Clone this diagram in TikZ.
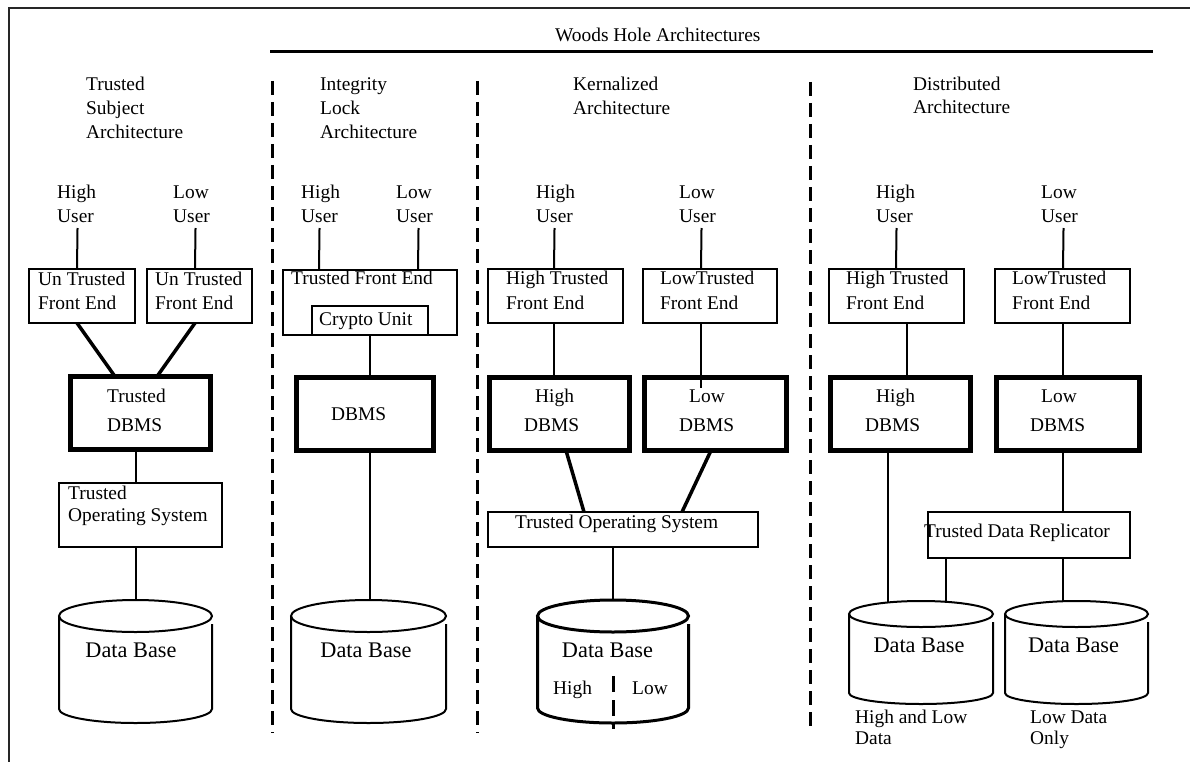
\documentclass[tikz,border=0pt]{standalone}
\usepackage{fontspec}
\setmainfont{Liberation Serif}
\usetikzlibrary{calc}
\newcommand\mycyl[7]{%
  \draw[#7] ({(#1+#2)/2},#3) ellipse [x radius={(#2-#1)/2}, y radius=#4];
  \draw[#7] (#2,#3+8) -- (#2,#5) arc[start angle=0, end angle=180, x radius={(#2-#1)/2}, y radius=#6] -- (#1,#3);
}
\tikzset{
  txt/.style={inner sep=0pt, anchor=base west, font=\fontsize{19.4}{24}\selectfont},
  dbtxt/.style={inner sep=0pt, anchor=base, font=\fontsize{22.3}{26}\selectfont},
  box/.style={draw, line width=2pt, inner sep=0pt, outer sep=0pt, anchor=north west},
  thickbox/.style={box, line width=5pt},
  conn/.style={line width=2pt},
  thickconn/.style={line width=3.5pt},
  divider/.style={line width=3pt, dash pattern=on 14pt off 7pt},
  cylline/.style={line width=2pt},
  thickcyl/.style={line width=3pt},
}
\begin{document}
\begin{tikzpicture}[x=1pt,y=-1pt]
\useasboundingbox (0,0) rectangle (1190,762);
% frame
\draw[line width=1.5pt, black!85] (9,762) -- (9,8) -- (1190,8);
% title
\node[txt] (woods) at (555,42) {Woods Hole Architectures};
\draw[line width=3pt] (270,52) -- (1153,52);
% dividers
\draw[divider] (272,81) -- (272,733);
\draw[divider] (477,81) -- (477,733);
\draw[divider] (810,82) -- (810,733);

% column titles
\node[txt] (t1a) at (86,91) {Trusted};
\node[txt] (t1b) at (86,115) {Subject};
\node[txt] (t1c) at (86,139) {Architecture};
\node[txt] (t2a) at (320,91) {Integrity};
\node[txt] (t2b) at (320,115) {Lock};
\node[txt] (t2c) at (320,139) {Architecture};
\node[txt] (t3a) at (573,91) {Kernalized};
\node[txt] (t3b) at (573,115) {Architecture};
\node[txt] (t4a) at (913,91) {Distributed};
\node[txt] (t4b) at (913,114) {Architecture};

% users
\node[txt] (hu1a) at (57,198) {High};   \node[txt] (hu1b) at (57,222) {User};
\node[txt] (lu1a) at (173,198) {Low};   \node[txt] (lu1b) at (173,222) {User};
\node[txt] (hu2a) at (301,198) {High};  \node[txt] (hu2b) at (301,222) {User};
\node[txt] (lu2a) at (396,198) {Low};   \node[txt] (lu2b) at (396,222) {User};
\node[txt] (hu3a) at (536,198) {High};  \node[txt] (hu3b) at (536,222) {User};
\node[txt] (lu3a) at (679,198) {Low};   \node[txt] (lu3b) at (679,222) {User};
\node[txt] (hu4a) at (876,198) {High};  \node[txt] (hu4b) at (876,222) {User};
\node[txt] (lu4a) at (1041,198) {Low};  \node[txt] (lu4b) at (1041,222) {User};

% ---------- column 1 ----------
\node[box, minimum width=106pt, minimum height=54pt] (ut1) at (29,269) {};
\node[box, minimum width=105pt, minimum height=54pt] (ut2) at (147,269) {};
\node[txt] (ut1a) at (38,285) {Un Trusted};
\node[txt] (ut1b) at (38,309) {Front End};
\node[txt] (ut2a) at (155,285) {Un Trusted};
\node[txt] (ut2b) at (155,309) {Front End};
\node[thickbox, minimum width=140pt, minimum height=73pt] (tdb) at (70.5,376.5) {};
\node[txt] (tdba) at (107,402) {Trusted};
\node[txt] (tdbb) at (107,431) {DBMS};
\node[box, minimum width=163pt, minimum height=64pt] (tos1) at (59,483) {};
\node[txt] (tos1a) at (68,499) {Trusted};
\node[txt] (tos1b) at (68,521) {Operating System};
\mycyl{59}{212}{616}{16}{709}{14}{cylline}
\coordinate (c1top) at (136,600);
\node[dbtxt] (db1t) at (131,657) {Data Base};

\draw[conn] ($(hu1b.base)+(2,6)$) -- ($(ut1.north west)+(48,0)$);
\draw[conn] ($(lu1b.base)+(4,6)$) -- ($(ut2.north west)+(48,0)$);
\draw[thickconn] ($(ut1.south west)+(48,0)$) -- ($(tdb.north west)+(44.5,0)$);
\draw[thickconn] ($(ut2.south west)+(48,0)$) -- ($(tdb.north west)+(86.5,0)$);
\draw[conn] ($(tdb.south west)+(65.5,0)$) -- ($(tos1.north west)+(77,0)$);
\draw[conn] ($(tos1.south west)+(77,0)$) -- (c1top);

% ---------- column 2 ----------
\node[box, minimum width=174pt, minimum height=65pt] (tfe) at (283,270) {};
\node[txt] (tfea) at (291,284) {Trusted Front End};
\node[box, minimum width=116pt, minimum height=29pt] (crypto) at (312,306) {};
\node[txt] (cryptoa) at (319,325) {Crypto Unit};
\node[thickbox, minimum width=137pt, minimum height=73pt] (db2) at (296.5,377.5) {};
\node[txt] (db2a) at (331,420) {DBMS};
\mycyl{291}{446}{616}{16}{709}{14}{cylline}
\coordinate (c2top) at (370,600);
\node[dbtxt] (db2t) at (366,657) {Data Base};

\draw[conn] ($(hu2b.base)+(0,6)$) -- ($(tfe.north west)+(36,0)$);
\draw[conn] ($(lu2b.base)+(4,6)$) -- ($(tfe.north west)+(135,0)$);
\draw[conn] ($(crypto.south west)+(58,0)$) -- ($(db2.north west)+(73.5,0)$);
\draw[conn] ($(db2.south west)+(73.5,0)$) -- (c2top);

% ---------- column 3 ----------
\node[box, minimum width=135pt, minimum height=54pt] (htfe) at (488,269) {};
\node[txt] (htfea) at (506,284) {High Trusted};
\node[txt] (htfeb) at (506,309) {Front End};
\node[box, minimum width=134pt, minimum height=54pt] (ltfe) at (643,269) {};
\node[txt] (ltfea) at (660,284) {LowTrusted};
\node[txt] (ltfeb) at (660,309) {Front End};
\node[thickbox, minimum width=140pt, minimum height=73pt] (hdb) at (489.5,377.5) {};
\node[txt] (hdba) at (535,402) {High};
\node[txt] (hdbb) at (524,431) {DBMS};
\node[thickbox, minimum width=142pt, minimum height=73pt] (ldb) at (644.5,377.5) {};
\node[txt] (ldba) at (689,402) {Low};
\node[txt] (ldbb) at (679,431) {DBMS};
\node[box, minimum width=270pt, minimum height=35pt] (tos3) at (488,512) {};
\node[txt] (tos3a) at (515,528) {Trusted Operating System};
\mycyl{537.5}{688.5}{616}{16}{708}{15}{thickcyl}
\coordinate (c3top) at (613,600);
\node[dbtxt] (db3t) at (607.5,657) {Data Base};
\node[txt] (db3h) at (553,694) {High};
\node[txt] (db3l) at (632,694) {Low};
\draw[line width=3pt, dash pattern=on 16pt off 8pt] (613,676) -- (613,729);

\draw[conn] ($(hu3b.base)+(0,6)$) -- ($(htfe.north west)+(66,0)$);
\draw[conn] ($(lu3b.base)+(4,6)$) -- ($(ltfe.north west)+(58,0)$);
\draw[conn] ($(htfe.south west)+(66,0)$) -- ($(hdb.north west)+(64.5,0)$);
\draw[conn] ($(ltfe.south west)+(58,0)$) -- ($(ldb.north west)+(56.5,10)$);
\draw[thickconn] ($(hdb.south west)+(76.5,0)$) -- ($(tos3.north west)+(96,0)$);
\draw[thickconn] ($(ldb.south west)+(66.5,0)$) -- ($(tos3.north west)+(194,0)$);
\draw[conn] ($(tos3.south west)+(125,0)$) -- (c3top);

% ---------- column 4 ----------
\node[box, minimum width=135pt, minimum height=54pt] (htfe4) at (829,269) {};
\node[txt] (htfe4a) at (846,284) {High Trusted};
\node[txt] (htfe4b) at (846,309) {Front End};
\node[box, minimum width=135pt, minimum height=54pt] (ltfe4) at (995,269) {};
\node[txt] (ltfe4a) at (1012,284) {LowTrusted};
\node[txt] (ltfe4b) at (1012,309) {Front End};
\node[thickbox, minimum width=140pt, minimum height=73pt] (hdb4) at (830.5,377.5) {};
\node[txt] (hdb4a) at (876,402) {High};
\node[txt] (hdb4b) at (865,431) {DBMS};
\node[thickbox, minimum width=143pt, minimum height=73pt] (ldb4) at (996.5,377.5) {};
\node[txt] (ldb4a) at (1041,402) {Low};
\node[txt] (ldb4b) at (1030,431) {DBMS};
\node[box, minimum width=202pt, minimum height=46pt] (rep) at (928,512) {};
\node[txt] (repa) at (924,537) {Trusted Data Replicator};
\mycyl{849}{993}{614}{13}{693}{11}{cylline}
\mycyl{1005}{1148}{614}{13}{693}{11}{cylline}
\coordinate (c4aL) at (888,602);
\coordinate (c4aR) at (946,602);
\coordinate (c4b) at (1063,601);
\node[dbtxt] (db4at) at (919,652) {Data Base};
\node[dbtxt] (db4bt) at (1073.5,652) {Data Base};
\node[txt] (hl1) at (855,723) {High and Low};
\node[txt] (hl2) at (855,744) {Data};
\node[txt] (lo1) at (1030,723) {Low Data};
\node[txt] (lo2) at (1030,744) {Only};

\draw[conn] ($(hu4b.base)+(2,6)$) -- ($(htfe4.north west)+(67,0)$);
\draw[conn] ($(lu4b.base)+(4,6)$) -- ($(ltfe4.north west)+(68,0)$);
\draw[conn] ($(htfe4.south west)+(78,0)$) -- ($(hdb4.north west)+(76.5,0)$);
\draw[conn] ($(ltfe4.south west)+(68,0)$) -- ($(ldb4.north west)+(66.5,0)$);
\draw[conn] ($(hdb4.south west)+(57.5,0)$) -- (c4aL);
\draw[conn] ($(ldb4.south west)+(66.5,0)$) -- ($(rep.north west)+(135,0)$);
\draw[conn] ($(rep.south west)+(18,0)$) -- (c4aR);
\draw[conn] ($(rep.south west)+(135,0)$) -- (c4b);
\end{tikzpicture}
\end{document}
